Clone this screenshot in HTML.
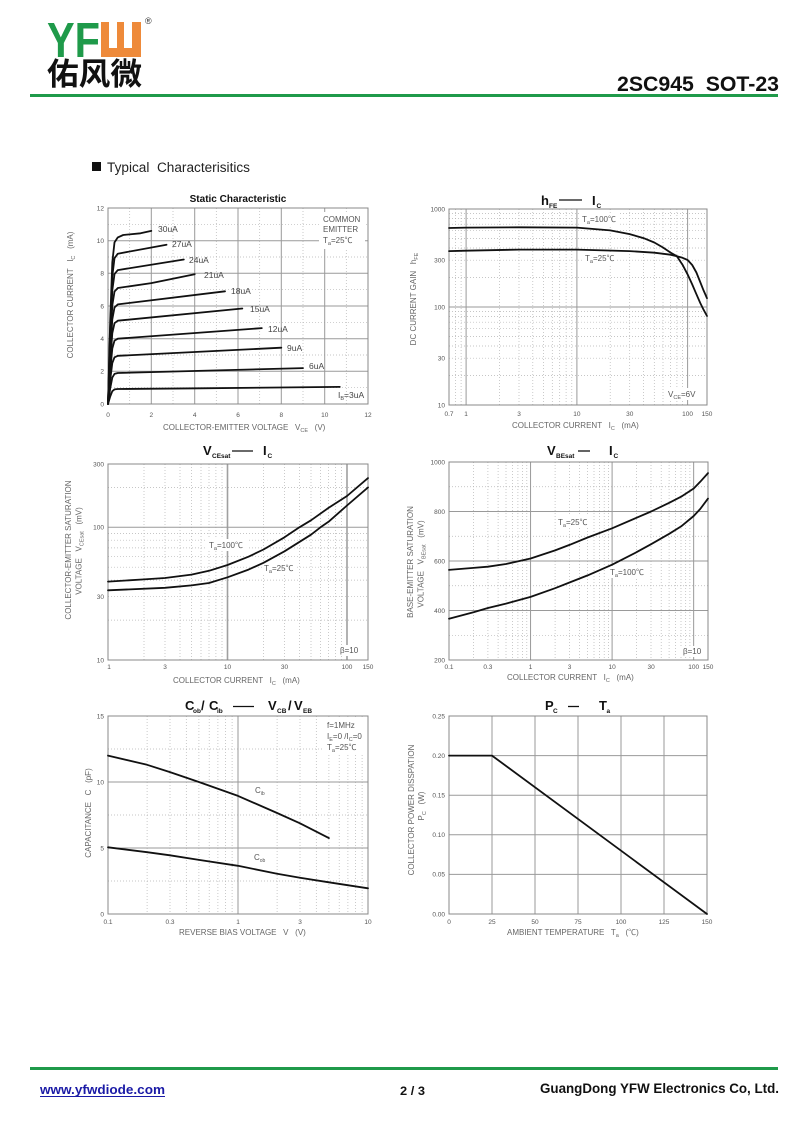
<!DOCTYPE html>
<html><head><meta charset="utf-8">
<style>
html,body{margin:0;padding:0;background:#fff;}
svg{display:block}
text{font-family:"Liberation Sans",Arial,"Noto Sans CJK SC",sans-serif;white-space:pre}
.tk{font-size:6.5px;fill:#555}
.ax{font-size:8px;fill:#666}
.an{font-size:8px;fill:#555}
.lb{font-size:8.5px;fill:#444}
.tt{font-weight:bold;fill:#111;font-size:13px}
.ts{font-weight:bold;fill:#111;font-size:6.5px}
.s{stroke:#9a9a9a;stroke-width:1;fill:none}
.s2{stroke:#a0a0a0;stroke-width:1.6;fill:none}
.d{stroke:#b4b4b4;stroke-width:0.7;stroke-dasharray:1 2;fill:none}
.bx{stroke:#888;stroke-width:1;fill:none}
.cv{fill:none;stroke:#111;stroke-width:1.8;stroke-linejoin:round;stroke-linecap:round}
.tl{stroke:#111;stroke-width:1.3}
</style></head><body>
<svg width="800" height="1130" viewBox="0 0 800 1130" xmlns="http://www.w3.org/2000/svg">
<rect width="800" height="1130" fill="#fff"/>

<!-- HEADER -->
<text x="47" y="57" font-size="49" font-weight="bold" fill="#1f9a4a" textLength="53" lengthAdjust="spacingAndGlyphs">YF</text>
<rect x="101" y="22" width="40" height="35" fill="#ee8a3a"/>
<rect x="109" y="22" width="8" height="26" fill="#fff"/>
<rect x="124" y="22" width="8" height="26" fill="#fff"/>
<text x="145" y="24" font-size="9" fill="#333">®</text>
<text x="47" y="85" font-size="31" font-weight="bold" fill="#111" style="font-family:'Noto Sans CJK SC','WenQuanYi Zen Hei',sans-serif" textLength="95" lengthAdjust="spacingAndGlyphs">佑风微</text>
<rect x="30" y="94" width="748" height="3" fill="#1f9a4a"/>
<text x="617" y="91" font-size="21" font-weight="bold" fill="#111" textLength="162" lengthAdjust="spacingAndGlyphs">2SC945  SOT-23</text>

<rect x="92" y="162" width="9" height="9" fill="#111"/>
<text x="107" y="172" font-size="13.5" fill="#222" textLength="143" lengthAdjust="spacingAndGlyphs">Typical  Characterisitics</text>

<!-- ============ CHART 1: Static Characteristic ============ -->
<text x="238" y="202" text-anchor="middle" font-size="10" font-weight="bold" fill="#111">Static Characteristic</text>
<path class="d" d="M129.7 208V404M173 208V404M216.3 208V404M259.7 208V404M303 208V404M346.3 208V404M108 387.7H368M108 355H368M108 322.3H368M108 289.7H368M108 257H368M108 224.3H368"/>
<path class="s" d="M151.3 208V404M194.7 208V404M238 208V404M281.3 208V404M324.7 208V404M108 371.3H368M108 338.7H368M108 306H368M108 273.3H368M108 240.7H368"/>
<rect x="319" y="212" width="46" height="37" fill="#fff"/>
<rect class="bx" x="108" y="208" width="260" height="196"/>
<polyline class="cv" points="108,404 110.2,396.5 112.3,391.2 114.5,389.4 117.8,389 200,388.3 339.8,386.9"/>
<polyline class="cv" points="108,404 110.2,388.5 112.3,377.6 114.5,373.9 117.8,373 303,368.1"/>
<polyline class="cv" points="108,404 110.2,379.9 112.3,363 114.5,357.3 117.8,355.8 281.3,347.7"/>
<polyline class="cv" points="108,404 110.2,371.3 112.3,348.5 114.5,340.6 117.8,338.7 261.8,328.1"/>
<polyline class="cv" points="108,404 110.2,362.4 112.3,333.2 114.5,323.2 117.8,320.7 242.3,308.5"/>
<polyline class="cv" points="108,404 110.2,354.2 112.3,319.3 114.5,307.4 117.8,304.4 225,291.3"/>
<polyline class="cv" points="108,404 110.2,346 112.3,305.4 114.5,291.5 117.8,288 151.3,283.1 194.7,274.2"/>
<polyline class="cv" points="108,404 110.2,337 112.3,290.2 114.5,274.1 117.8,270.1 183.8,259.5"/>
<polyline class="cv" points="108,404 110.2,328.9 112.3,276.3 114.5,258.2 117.8,253.7 166.5,244.8"/>
<polyline class="cv" points="108,404 110.2,320.7 112.3,262.4 114.5,242.4 117.8,237.4 123.2,235 140.5,233.3 151.3,230.9"/>
<text class="lb" x="158" y="232">30uA</text>
<text class="lb" x="172" y="247">27uA</text>
<text class="lb" x="189" y="263">24uA</text>
<text class="lb" x="204" y="278">21uA</text>
<text class="lb" x="231" y="294">18uA</text>
<text class="lb" x="250" y="312">15uA</text>
<text class="lb" x="268" y="332">12uA</text>
<text class="lb" x="287" y="351">9uA</text>
<text class="lb" x="309" y="369">6uA</text>
<text class="lb" x="338" y="398">I<tspan font-size="5.5" dy="2">B</tspan><tspan dy="-2">=3uA</tspan></text>
<text class="an" x="323" y="222">COMMON</text>
<text class="an" x="323" y="232">EMITTER</text>
<text class="an" x="323" y="243">T<tspan font-size="5.5" dy="2">a</tspan><tspan dy="-2">=25℃</tspan></text>
<g class="tk" text-anchor="end">
<text x="104" y="210.3">12</text><text x="104" y="243">10</text><text x="104" y="275.6">8</text><text x="104" y="308.3">6</text><text x="104" y="341">4</text><text x="104" y="373.6">2</text><text x="104" y="406.3">0</text>
</g>
<g class="tk" text-anchor="middle">
<text x="108" y="417">0</text><text x="151.3" y="417">2</text><text x="194.7" y="417">4</text><text x="238" y="417">6</text><text x="281.3" y="417">8</text><text x="324.7" y="417">10</text><text x="368" y="417">12</text>
</g>
<text class="ax" x="163" y="430">COLLECTOR-EMITTER VOLTAGE   V<tspan font-size="5.5" dy="2">CE</tspan><tspan dy="-2">   (V)</tspan></text>
<text class="ax" transform="translate(73,295) rotate(-90)" text-anchor="middle">COLLECTOR CURRENT   I<tspan font-size="5.5" dy="2">C</tspan><tspan dy="-2">   (mA)</tspan></text>

<!-- ============ CHART 2: hFE - IC ============ -->
<text class="tt" x="541" y="205">h</text><text class="ts" x="549" y="208">FE</text>
<line class="tl" x1="559" y1="200" x2="582" y2="200"/>
<text class="tt" x="592" y="205">I</text><text class="ts" x="596.5" y="208">C</text>
<path class="d" d="M455.4 209V405M461.1 209V405M499.5 209V405M519 209V405M532.8 209V405M543.5 209V405M552.3 209V405M559.7 209V405M566.1 209V405M571.8 209V405M610.2 209V405M629.7 209V405M643.5 209V405M654.3 209V405M663 209V405M670.4 209V405M676.9 209V405M682.5 209V405M449 375.5H707M449 358.2H707M449 346H707M449 336.5H707M449 328.7H707M449 322.2H707M449 316.5H707M449 311.5H707M449 277.5H707M449 260.2H707M449 248H707M449 238.5H707M449 230.7H707M449 224.2H707M449 218.5H707M449 213.5H707"/>
<path class="s" d="M466.1 209V405M576.9 209V405M687.6 209V405M449 307H707"/>
<rect x="580" y="213" width="40" height="12" fill="#fff"/>
<rect x="583" y="253" width="34" height="11" fill="#fff"/>
<rect x="666" y="388" width="38" height="12" fill="#fff"/>
<rect class="bx" x="449" y="209" width="258" height="196"/>
<polyline class="cv" points="449,228 466.1,227.6 519,227.3 576.9,227.6 610.2,230.4 629.7,234.1 643.5,238.1 654.3,242.5 663,247.5 670.4,252.5 676.9,256.2 682.5,264.7 687.6,274.4 692.2,284.4 696.4,294.2 700.2,302.9 703.5,309.6 707,316"/>
<polyline class="cv" points="449,251.1 466.1,250.7 519,249.6 576.9,249.6 629.7,251.1 654.3,252.7 670.4,254.7 676.9,256.2 682.5,257.8 687.6,260 692.2,265 696.4,272.5 700.2,282 703.5,290.3 707,298.2"/>
<text class="an" x="582" y="222">T<tspan font-size="5.5" dy="2">a</tspan><tspan dy="-2">=100℃</tspan></text>
<text class="an" x="585" y="261">T<tspan font-size="5.5" dy="2">a</tspan><tspan dy="-2">=25℃</tspan></text>
<text class="an" x="668" y="397">V<tspan font-size="5.5" dy="2">CE</tspan><tspan dy="-2">=6V</tspan></text>
<g class="tk" text-anchor="end">
<text x="445" y="211.3">1000</text><text x="445" y="262.5">300</text><text x="445" y="309.3">100</text><text x="445" y="360.5">30</text><text x="445" y="407.3">10</text>
</g>
<g class="tk" text-anchor="middle">
<text x="449" y="416">0.7</text><text x="466.1" y="416">1</text><text x="519" y="416">3</text><text x="576.9" y="416">10</text><text x="629.7" y="416">30</text><text x="687.6" y="416">100</text><text x="707" y="416">150</text>
</g>
<text class="ax" x="512" y="428">COLLECTOR CURRENT   I<tspan font-size="5.5" dy="2">C</tspan><tspan dy="-2">   (mA)</tspan></text>
<text class="ax" transform="translate(416,299) rotate(-90)" text-anchor="middle">DC CURRENT GAIN   h<tspan font-size="5.5" dy="2">FE</tspan></text>

<!-- ============ CHART 3: VCEsat - IC ============ -->
<text class="tt" x="203" y="455">V</text><text class="ts" x="212" y="458">CEsat</text>
<line class="tl" x1="232" y1="451" x2="253" y2="451"/>
<text class="tt" x="263" y="455">I</text><text class="ts" x="267.5" y="458">C</text>
<path class="d" d="M144 464V660M165 464V660M180 464V660M191.5 464V660M201 464V660M209 464V660M215.9 464V660M222 464V660M263.5 464V660M284.5 464V660M299.4 464V660M311 464V660M320.5 464V660M328.5 464V660M335.4 464V660M341.5 464V660M108 620.1H368M108 596.7H368M108 580.1H368M108 567.2H368M108 556.7H368M108 547.9H368M108 540.2H368M108 533.4H368M108 487.4H368"/>
<path class="s2" d="M227.5 464V660M347 464V660"/>
<path class="s" d="M108 527.3H368"/>
<rect x="207" y="539" width="40" height="12" fill="#fff"/>
<rect x="262" y="563" width="34" height="11" fill="#fff"/>
<rect x="338" y="645" width="28" height="11" fill="#fff"/>
<rect class="bx" x="108" y="464" width="260" height="196"/>
<polyline class="cv" points="108,581.6 144,579.4 165,578 191.5,574.6 209,570.8 227.5,565 248.5,556.7 263.5,549.5 284.5,537.3 299.4,527.3 311,520.3 328.5,507.9 347,496 368,478.1"/>
<polyline class="cv" points="108,590.3 165,587.8 191.5,585.4 209,583 227.5,577.3 248.5,569.6 263.5,562.8 284.5,551.3 311,534.7 320.5,527.3 328.5,521.8 347,505.5 368,487.4"/>
<text class="an" x="209" y="548">T<tspan font-size="5.5" dy="2">a</tspan><tspan dy="-2">=100℃</tspan></text>
<text class="an" x="264" y="571">T<tspan font-size="5.5" dy="2">a</tspan><tspan dy="-2">=25℃</tspan></text>
<text class="an" x="340" y="653">β=10</text>
<g class="tk" text-anchor="end">
<text x="104" y="466.3">300</text><text x="104" y="529.6">100</text><text x="104" y="599">30</text><text x="104" y="662.3">10</text>
</g>
<g class="tk" text-anchor="middle">
<text x="109" y="669">1</text><text x="165" y="669">3</text><text x="227.5" y="669">10</text><text x="284.5" y="669">30</text><text x="347" y="669">100</text><text x="368" y="669">150</text>
</g>
<text class="ax" x="173" y="683">COLLECTOR CURRENT   I<tspan font-size="5.5" dy="2">C</tspan><tspan dy="-2">   (mA)</tspan></text>
<text class="ax" transform="translate(71,550) rotate(-90)" text-anchor="middle">COLLECTOR-EMITTER SATURATION</text>
<text class="ax" transform="translate(81.5,551) rotate(-90)" text-anchor="middle">VOLTAGE   V<tspan font-size="5.5" dy="2">CEsat</tspan><tspan dy="-2">   (mV)</tspan></text>

<!-- ============ CHART 4: VBEsat - IC ============ -->
<text class="tt" x="547" y="455">V</text><text class="ts" x="556" y="458">BEsat</text>
<line class="tl" x1="578" y1="451" x2="590" y2="451"/>
<text class="tt" x="609" y="455">I</text><text class="ts" x="613.5" y="458">C</text>
<path class="d" d="M473.5 462V660M487.9 462V660M498.1 462V660M506 462V660M512.4 462V660M517.9 462V660M522.6 462V660M526.8 462V660M555.1 462V660M569.5 462V660M579.6 462V660M587.6 462V660M594 462V660M599.5 462V660M604.2 462V660M608.4 462V660M636.6 462V660M651 462V660M661.2 462V660M669.1 462V660M675.5 462V660M681 462V660M685.7 462V660M689.9 462V660M449 635.3H708M449 585.75H708M449 536.25H708M449 486.75H708"/>
<path class="s" d="M530.55 462V660M612.1 462V660M693.65 462V660M449 610.5H708M449 561H708M449 511.5H708"/>
<rect x="556" y="516" width="34" height="11" fill="#fff"/>
<rect x="608" y="566" width="40" height="12" fill="#fff"/>
<rect x="680" y="646" width="26" height="11" fill="#fff"/>
<rect class="bx" x="449" y="462" width="259" height="198"/>
<polyline class="cv" points="449,569.9 473.5,567.9 487.9,566.7 506,564 530.6,558.5 555.1,550.4 569.5,544.9 587.6,537.5 612.1,528.3 636.7,517.7 651.1,511.5 669.2,502.8 681.1,496.7 693.7,488.5 700.2,481.8 708,473.1"/>
<polyline class="cv" points="449,618.7 473.5,612.2 487.9,608 506,603.6 530.6,596.9 555.1,588.2 569.5,582.5 587.6,575.4 612.1,564.7 636.7,552.1 651.1,544.2 669.2,533.8 681.1,526.4 693.7,516 700.2,509 708,498.6"/>
<text class="an" x="558" y="525">T<tspan font-size="5.5" dy="2">a</tspan><tspan dy="-2">=25℃</tspan></text>
<text class="an" x="610" y="575">T<tspan font-size="5.5" dy="2">a</tspan><tspan dy="-2">=100℃</tspan></text>
<text class="an" x="683" y="654">β=10</text>
<g class="tk" text-anchor="end">
<text x="445" y="464.3">1000</text><text x="445" y="513.8">800</text><text x="445" y="563.3">600</text><text x="445" y="612.8">400</text><text x="445" y="662.3">200</text>
</g>
<g class="tk" text-anchor="middle">
<text x="449" y="669">0.1</text><text x="487.9" y="669">0.3</text><text x="530.6" y="669">1</text><text x="569.5" y="669">3</text><text x="612.1" y="669">10</text><text x="651.1" y="669">30</text><text x="693.7" y="669">100</text><text x="708" y="669">150</text>
</g>
<text class="ax" x="507" y="680">COLLECTOR CURRENT   I<tspan font-size="5.5" dy="2">C</tspan><tspan dy="-2">   (mA)</tspan></text>
<text class="ax" transform="translate(413,562) rotate(-90)" text-anchor="middle">BASE-EMITTER SATURATION</text>
<text class="ax" transform="translate(423.5,564) rotate(-90)" text-anchor="middle">VOLTAGE   V<tspan font-size="5.5" dy="2">BEsat</tspan><tspan dy="-2">   (mV)</tspan></text>

<!-- ============ CHART 5: Cob/Cib - VCB/VEB ============ -->
<text class="tt" x="185" y="710">C</text><text class="ts" x="193" y="713">ob</text>
<text class="tt" x="201" y="710">/</text>
<text class="tt" x="209" y="710">C</text><text class="ts" x="217" y="713">ib</text>
<line class="tl" x1="233" y1="706.5" x2="254" y2="706.5"/>
<text class="tt" x="268" y="710">V</text><text class="ts" x="277" y="713">CB</text>
<text class="tt" x="288" y="710">/</text>
<text class="tt" x="294" y="710">V</text><text class="ts" x="303" y="713">EB</text>
<path class="d" d="M147.1 716V914M170 716V914M186.3 716V914M198.9 716V914M209.2 716V914M217.9 716V914M225.4 716V914M232.1 716V914M277.1 716V914M300 716V914M316.3 716V914M328.9 716V914M339.2 716V914M347.9 716V914M355.4 716V914M362.1 716V914M108 881H368M108 815H368M108 749H368"/>
<path class="s" d="M238 716V914M108 848H368M108 782H368"/>
<rect x="324" y="719" width="43" height="34" fill="#fff"/>
<rect class="bx" x="108" y="716" width="260" height="198"/>
<polyline class="cv" points="108,755.6 147.1,764.8 170,772.1 198.9,782 238,795.9 277.1,813 300,823.3 328.9,838.1"/>
<polyline class="cv" points="108,847.3 147.1,852.2 170,855.3 198.9,859.9 238,865.8 277.1,873.7 300,877.7 328.9,882.3 368,888.3"/>
<text class="an" x="255" y="793">C<tspan font-size="5" dy="2">ib</tspan></text>
<text class="an" x="254" y="860">C<tspan font-size="5" dy="2">ob</tspan></text>
<text class="an" x="327" y="728">f=1MHz</text>
<text class="an" x="327" y="739">I<tspan font-size="5.5" dy="2">E</tspan><tspan dy="-2">=0 /I</tspan><tspan font-size="5.5" dy="2">C</tspan><tspan dy="-2">=0</tspan></text>
<text class="an" x="327" y="750">T<tspan font-size="5.5" dy="2">a</tspan><tspan dy="-2">=25℃</tspan></text>
<g class="tk" text-anchor="end">
<text x="104" y="718.3">15</text><text x="104" y="784.3">10</text><text x="104" y="850.3">5</text><text x="104" y="916.3">0</text>
</g>
<g class="tk" text-anchor="middle">
<text x="108" y="924">0.1</text><text x="170" y="924">0.3</text><text x="238" y="924">1</text><text x="300" y="924">3</text><text x="368" y="924">10</text>
</g>
<text class="ax" x="179" y="935">REVERSE BIAS VOLTAGE   V   (V)</text>
<text class="ax" transform="translate(91,813) rotate(-90)" text-anchor="middle">CAPACITANCE   C   (pF)</text>

<!-- ============ CHART 6: PC - Ta ============ -->
<text class="tt" x="545" y="710">P</text><text class="ts" x="553" y="713">C</text>
<line class="tl" x1="568" y1="706.5" x2="579" y2="706.5"/>
<text class="tt" x="599" y="710">T</text><text class="ts" x="606.5" y="713">a</text>
<path class="s" d="M492 716V914M535 716V914M578 716V914M621 716V914M664 716V914M449 874.4H707M449 834.8H707M449 795.2H707M449 755.6H707"/>
<rect class="bx" x="449" y="716" width="258" height="198"/>
<polyline class="cv" points="449,755.6 492,755.6 707,914"/>
<g class="tk" text-anchor="end">
<text x="445" y="718.3">0.25</text><text x="445" y="757.9">0.20</text><text x="445" y="797.5">0.15</text><text x="445" y="837.1">0.10</text><text x="445" y="876.7">0.05</text><text x="445" y="916.3">0.00</text>
</g>
<g class="tk" text-anchor="middle">
<text x="449" y="924">0</text><text x="492" y="924">25</text><text x="535" y="924">50</text><text x="578" y="924">75</text><text x="621" y="924">100</text><text x="664" y="924">125</text><text x="707" y="924">150</text>
</g>
<text class="ax" x="507" y="935">AMBIENT TEMPERATURE   T<tspan font-size="5.5" dy="2">a</tspan><tspan dy="-2">   (℃)</tspan></text>
<text class="ax" transform="translate(414,810) rotate(-90)" text-anchor="middle">COLLECTOR POWER DISSPATION</text>
<text class="ax" transform="translate(424,806) rotate(-90)" text-anchor="middle">P<tspan font-size="5.5" dy="2">C</tspan><tspan dy="-2">   (W)</tspan></text>

<!-- FOOTER -->
<rect x="30" y="1067" width="748" height="3" fill="#1f9a4a"/>
<text x="40" y="1094" font-size="13" font-weight="bold" fill="#1a1aa6" textLength="125" lengthAdjust="spacingAndGlyphs">www.yfwdiode.com</text>
<rect x="40" y="1096" width="125" height="1" fill="#1a1aa6"/>
<text x="400" y="1095" font-size="12" font-weight="bold" fill="#111" textLength="25" lengthAdjust="spacingAndGlyphs">2 / 3</text>
<text x="540" y="1093" font-size="13.5" font-weight="bold" fill="#111" textLength="239" lengthAdjust="spacingAndGlyphs">GuangDong YFW Electronics Co, Ltd.</text>
</svg>
</body></html>
